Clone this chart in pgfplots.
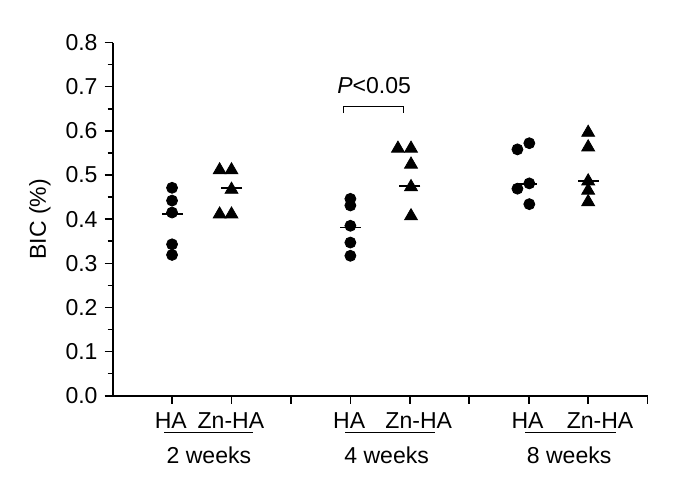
\documentclass[border=0pt]{standalone}
\usepackage{fontspec}
\setmainfont{Liberation Sans}
\usepackage{pgfplots}
\pgfplotsset{compat=1.18}
\begin{document}
\begin{tikzpicture}[font=\fontsize{11.5}{13.8}\selectfont]
\begin{axis}[
scale only axis,
width=267.3pt,
height=176.5pt,
xmin=0, xmax=9,
ymin=0, ymax=0.8,
axis x line*=bottom,
axis y line*=left,
axis line style={line width=0.9pt},
xtick={1,...,9},
xticklabels={},
ytick={0,0.1,...,0.8},
minor y tick num=1,
tick align=outside,
major tick length=4pt,
minor tick length=2.5pt,
tick style={line width=0.8pt, black},
/pgf/number format/assume math mode=true,
yticklabel style={/pgf/number format/.cd, fixed, fixed zerofill, precision=1},
ylabel={BIC (\%)},
ylabel style={at={(rel axis cs:-0.1358,0.5)}, anchor=center, rotate=0},
clip=false,
]
%% HA, circles
\addplot[only marks, mark=*, mark size=2.75pt, black] coordinates {
(1,0.471) (1,0.442) (1,0.415) (1,0.343) (1,0.319)
(4,0.446) (4,0.431) (4,0.385) (4,0.347) (4,0.317)
(6.81,0.558) (7.01,0.572) (6.81,0.469) (7.01,0.481) (7.01,0.434)
};
%% Zn-HA, triangles
\addplot[only marks, mark=triangle*, mark size=3.7pt, black] coordinates {
(1.80,0.511) (2.0,0.511) (2.0,0.467) (1.80,0.411) (2.0,0.411)
(4.80,0.560) (5.02,0.560) (5.02,0.524) (5.02,0.473) (5.02,0.407)
(8,0.596) (8,0.563) (8,0.486) (8,0.465) (8,0.439)
};
%% group means
\addplot[only marks, mark=-, mark size=5.25pt, black, mark options={line width=0.8pt}] coordinates {
(1,0.411) (2,0.471) (4,0.381) (5,0.475) (6.96,0.480) (8,0.487)
};
%% significance bracket
\draw[line width=0.6pt] (axis cs:3.885,0.640) -- (axis cs:3.885,0.656) -- (axis cs:4.894,0.656) -- (axis cs:4.894,0.640);
\node at (axis cs:4.40,0.703) {\textit{P}<0.05};
%% group labels
\node at (axis cs:0.98,-0.0567) {HA};
\node at (axis cs:1.99,-0.0567) {Zn-HA};
\node at (axis cs:3.98,-0.0567) {HA};
\node at (axis cs:5.15,-0.0567) {Zn-HA};
\node at (axis cs:6.98,-0.0567) {HA};
\node at (axis cs:8.20,-0.0567) {Zn-HA};
\draw[line width=0.65pt] (axis cs:0.865,-0.0834) -- (axis cs:2.369,-0.0834);
\draw[line width=0.65pt] (axis cs:3.91,-0.0834) -- (axis cs:5.43,-0.0834);
\draw[line width=0.65pt] (axis cs:6.94,-0.0834) -- (axis cs:8.46,-0.0834);
\node at (axis cs:1.62,-0.134) {2 weeks};
\node at (axis cs:4.61,-0.134) {4 weeks};
\node at (axis cs:7.68,-0.134) {8 weeks};
\coordinate (bl) at (rel axis cs:-0.2105,-0.2309);
\coordinate (tr) at (rel axis cs:1.0512,1.1204);
\end{axis}
\pgfresetboundingbox
\path[use as bounding box] (bl) rectangle (tr);
\end{tikzpicture}
\end{document}
